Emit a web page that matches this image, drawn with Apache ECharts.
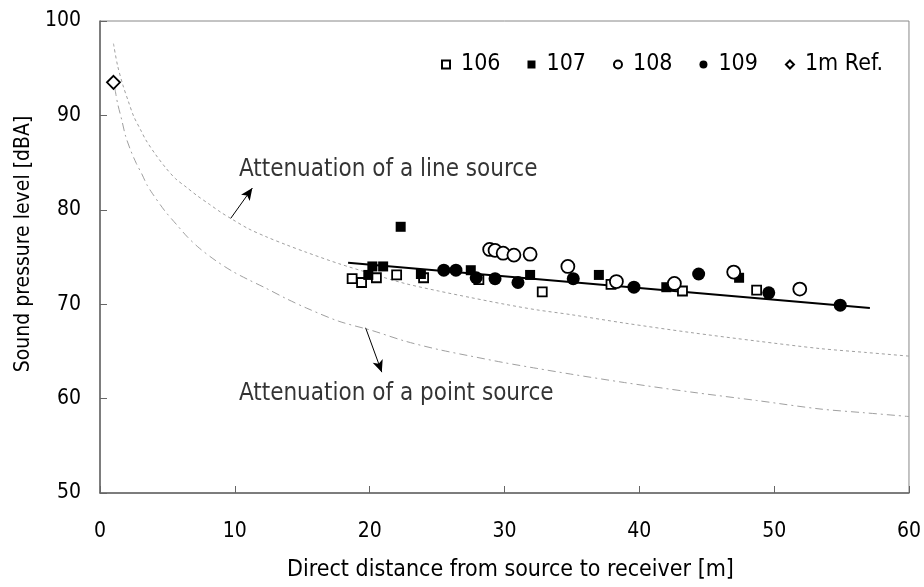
<!DOCTYPE html>
<html>
<head>
<meta charset="utf-8">
<script src="https://cdn.jsdelivr.net/npm/echarts@6/dist/echarts.min.js"></script>
<style>
html,body{margin:0;padding:0;background:#fff;}
#chart{width:924px;height:587px;}
</style>
</head>
<body>
<div id="chart"></div>
<script>
// ---- data ----
const s106 = [[18.7,72.7],[19.4,72.3],[20.5,72.8],[22.0,73.1],[24.0,72.8],[28.1,72.6],[32.8,71.3],[37.9,72.1],[43.2,71.4],[48.7,71.5]];
const s107 = [[19.9,73.1],[20.2,74.0],[21.0,74.0],[22.3,78.2],[23.8,73.2],[27.5,73.6],[31.9,73.1],[37.0,73.1],[42.0,71.8],[47.4,72.8]];
const s108 = [[28.9,75.8],[29.3,75.7],[29.9,75.4],[30.7,75.2],[31.9,75.3],[34.7,74.0],[38.3,72.4],[42.6,72.2],[47.0,73.4],[51.9,71.6]];
const s109 = [[25.5,73.6],[26.4,73.6],[27.9,72.8],[29.3,72.7],[31.0,72.3],[35.1,72.7],[39.6,71.8],[44.4,73.2],[49.6,71.2],[54.9,69.9]];
const ref1m = [[1.0,93.5]];
const fitLine = [[18.4,74.4],[57.1,69.6]];
const lineSource = [[1.0,97.6],[1.3,95.3],[1.7,93.2],[2.1,91.5],[2.5,89.9],[3.0,88.5],[3.4,87.4],[4.1,85.9],[4.9,84.4],[5.6,83.3],[6.4,82.4],[7.2,81.5],[8.1,80.6],[9.0,79.7],[9.8,79.0],[11.0,78.0],[12.4,77.1],[13.8,76.3],[15.3,75.5],[17.7,74.3],[20.2,73.2],[22.6,72.2],[25.1,71.4],[27.5,70.7],[30.0,70.0],[32.4,69.4],[34.9,68.9],[38.9,68.0],[43.8,67.0],[48.7,66.1],[53.4,65.3],[56.7,64.9],[60,64.5]];
const pointSource = [[1.1,92.9],[1.3,91.3],[1.6,89.6],[1.9,87.8],[2.3,86.2],[2.7,84.9],[3.1,83.8],[3.5,82.6],[3.9,81.7],[4.8,79.9],[5.7,78.4],[6.5,77.1],[7.4,75.9],[8.6,74.6],[9.8,73.5],[11.0,72.6],[12.3,71.7],[13.8,70.6],[15.3,69.6],[17.7,68.2],[20.2,67.2],[22.6,66.1],[25.1,65.2],[27.5,64.5],[30.0,63.8],[32.4,63.2],[34.9,62.6],[38.9,61.7],[43.8,60.7],[48.7,59.8],[53.4,58.9],[56.7,58.5],[60,58.1]];
const lineArrow = [[9.7,79.1],[11.3,82.3]];
const pointArrow = [[19.7,67.5],[20.9,62.8]];
const annotations = [[10.3,84.2,'Attenuation of a line source'],[10.3,60.5,'Attenuation of a point source']];
const seriesNames = ['106','107','108','109','1m Ref.'];
const xTitle = 'Direct distance from source to receiver [m]';
const yTitle = 'Sound pressure level [dBA]';

const FONT = "'DejaVu Sans Condensed','Liberation Sans',sans-serif";
const chart = echarts.init(document.getElementById('chart'));
const axisGray = '#666';

function openSym(name, data, symbol, size){
  return {name, type:'scatter', data, symbol, symbolSize:size, z:5,
    itemStyle:{color:'#fff', borderColor:'#000', borderWidth:1.8, opacity:1}};
}
function fillSym(name, data, symbol, size){
  return {name, type:'scatter', data, symbol, symbolSize:size, z:5,
    itemStyle:{color:'#000', borderColor:'#000', borderWidth:0, opacity:1}};
}

chart.setOption({
  animation:false,
  backgroundColor:'#fff',
  textStyle:{fontFamily:FONT},
  grid:{left:100, right:11, top:21, bottom:90, show:true, borderColor:'#888', borderWidth:1, containLabel:false},
  legend:{
    data:seriesNames, left:436, top:48, itemWidth:8, itemHeight:8, itemGap:27,
    textStyle:{fontFamily:FONT, fontSize:23, color:'#000', padding:[0,0,0,6]}
  },
  xAxis:{
    type:'value', min:0, max:60, interval:10,
    name:xTitle, nameLocation:'middle', nameGap:66,
    nameTextStyle:{fontFamily:FONT, fontSize:23, color:'#000', padding:[0,0,0,12]},
    axisLine:{onZero:false, lineStyle:{color:axisGray, width:1.5}},
    axisTick:{inside:true, length:7, lineStyle:{color:axisGray}},
    axisLabel:{fontFamily:FONT, fontSize:21, color:'#000', margin:28},
    splitLine:{show:false}
  },
  yAxis:{
    type:'value', min:50, max:100, interval:10,
    name:yTitle, nameLocation:'middle', nameGap:66,
    nameTextStyle:{fontFamily:FONT, fontSize:21, color:'#000', padding:[0,0,0,26]},
    axisLine:{onZero:false, lineStyle:{color:axisGray, width:1.5}},
    axisTick:{inside:true, length:7, lineStyle:{color:axisGray}},
    axisLabel:{fontFamily:FONT, fontSize:21, color:'#000', margin:19},
    splitLine:{show:false}
  },
  series:[
    {name:'line source', type:'line', data:lineSource, smooth:0.3, showSymbol:false, symbol:'none', z:1,
      lineStyle:{color:'#a0a0a0', width:1, type:[3,3]}},
    {name:'point source', type:'line', data:pointSource, smooth:0.3, showSymbol:false, symbol:'none', z:1,
      lineStyle:{color:'#a0a0a0', width:1, type:[8,4,2,4]}},
    {name:'fit', type:'line', data:fitLine, showSymbol:false, symbol:'none', z:3,
      lineStyle:{color:'#000', width:2}},
    openSym('106', s106, 'rect', 9),
    fillSym('107', s107, 'rect', 10),
    openSym('108', s108, 'circle', 13),
    fillSym('109', s109, 'circle', 13),
    openSym('1m Ref.', ref1m, 'diamond', 13),
    {name:'annot', type:'scatter', data:annotations, symbolSize:0, z:6, silent:true,
      label:{show:true, position:'right', distance:0, formatter:p=>p.value[2],
        fontFamily:FONT, fontSize:24, color:'#000'},
      markLine:{silent:true, symbol:['none','arrow'], symbolSize:[8,12],
        lineStyle:{color:'#000', width:1, type:'solid'}, label:{show:false},
        data:[
          [{coord:lineArrow[0]},{coord:lineArrow[1]}],
          [{coord:pointArrow[0]},{coord:pointArrow[1]}]
        ]}
    }
  ]
});
</script>
</body>
</html>
